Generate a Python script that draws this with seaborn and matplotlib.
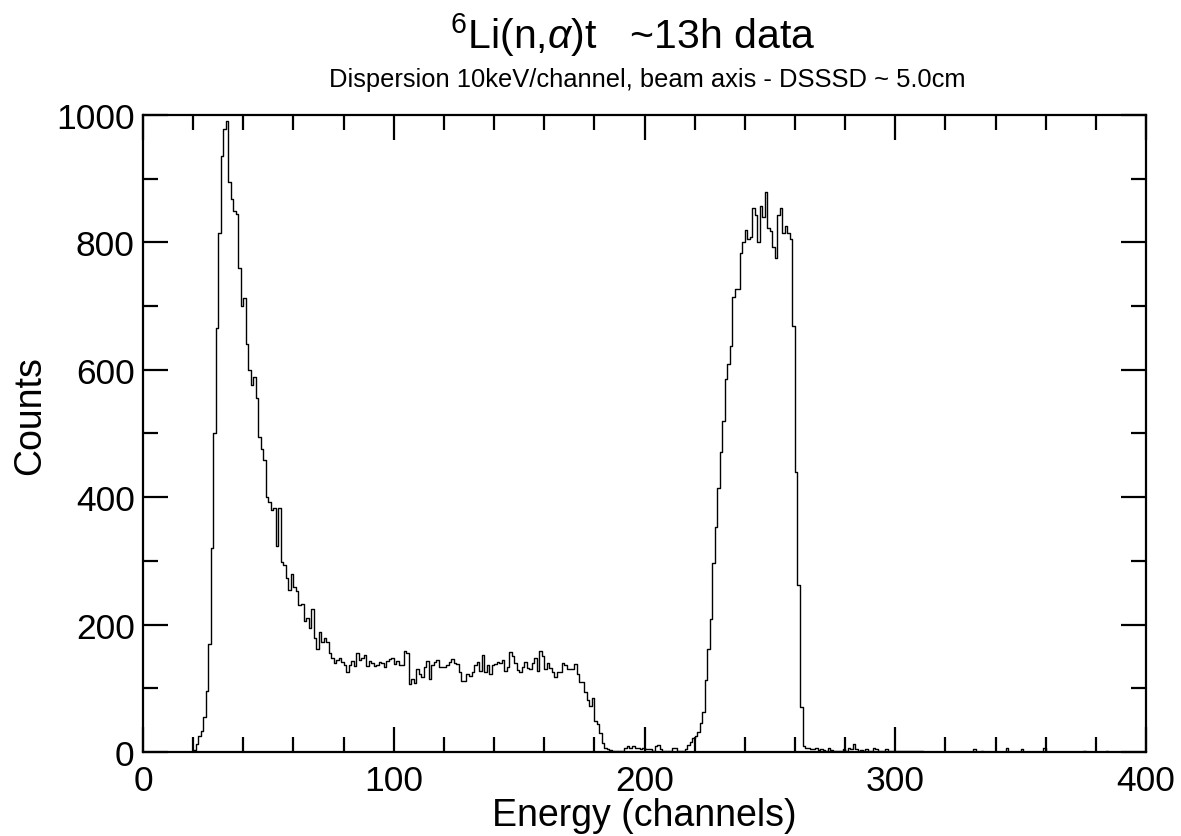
import numpy as np
import pandas as pd
import matplotlib
matplotlib.use("Agg")
import matplotlib.pyplot as plt
from matplotlib.ticker import MultipleLocator
import seaborn as sns

# counts per channel (1 channel = 10 keV)
lead_in = [0, 0, 0, 0, 0, 0, 0, 0, 0, 0,
           0, 0, 0, 0, 0, 0, 0, 0, 0, 0]                       # ch 0-19
alpha_peak = [3, 12, 25, 33, 55, 95, 170, 320, 500, 665,
              815, 935, 978, 990, 895, 868, 850, 845, 760, 700,
              712, 640, 600, 576, 588, 555, 494, 476, 458, 401,
              392, 380, 383, 323, 383, 298, 294, 273, 255, 280]  # ch 20-59
alpha_tail = [259, 252, 230, 232, 206, 210, 194, 224, 179, 162,
              188, 172, 179, 172, 155, 147, 140, 145, 147, 141,
              136, 126, 136, 143, 135, 155, 144, 147, 152, 135,
              143, 140, 135, 136, 141, 140, 134, 143, 146, 147]  # ch 60-99
plateau_a = [138, 143, 137, 137, 159, 155, 107, 115, 108, 130,
             123, 117, 134, 143, 115, 137, 142, 144, 134, 134,
             134, 137, 141, 146, 140, 138, 126, 111, 111, 123,
             120, 125, 137, 141, 127, 152, 125, 137, 122, 137,
             138, 141, 140]                                      # ch 100-142
plateau_b = [145, 127, 134, 157, 151, 139, 128, 126, 134, 142,
             132, 131, 140, 147, 127, 158, 150, 131, 140, 132,
             125, 118, 126, 126, 140, 137, 131]                  # ch 143-169
cutoff = [130, 130, 138, 122, 110, 110, 94, 82, 72, 84,
          48, 44, 30, 14, 7, 4, 3, 2]                            # ch 170-187
gap = [1, 1, 1, 1, 7, 9, 7, 9, 6, 6,
       4, 7, 5, 4, 4, 1, 10, 11, 4, 1,
       1, 1, 1, 6, 6, 1, 1, 1, 4, 11,
       15, 22]                                                   # ch 188-219
triton_rise = [25, 31, 45, 62, 113, 162, 208, 297, 353, 415,
               471, 520, 586, 609, 638, 714, 727, 727, 783, 800,
               820, 805]                                         # ch 220-241
triton_top = [808, 854, 843, 800, 857, 840, 879, 823, 818, 793,
              775, 843, 854, 815, 825, 815, 806, 668, 440, 262,
              70, 10, 7]                                         # ch 242-264
tail_near = [6, 5, 5, 6, 3, 4, 3, 2, 6, 3,
             2, 1, 2, 1, 4, 2, 7, 4, 12, 4,
             2, 3, 1, 4, 2, 2, 7, 5, 2, 1,
             1, 4, 2, 2, 1, 1, 2, 1, 1, 2,
             1, 1, 1, 2, 1, 1, 0]                                # ch 265-311
tail_far = [0, 0, 0, 0, 0, 0, 0, 0, 0, 0,
            0, 0, 0, 0, 0, 0, 0, 0, 0, 4,
            0, 0, 2, 0, 0, 0, 0, 0, 0, 0,
            0, 0, 7, 0, 0, 0, 0, 0, 4, 0,
            0, 0, 0, 0, 0, 0, 0, 6, 0, 0,
            0, 0, 0, 0, 0, 0, 0, 0, 0, 0,
            0, 0, 0, 2, 0, 0, 0, 0, 0, 0,
            0, 0, 2, 0, 0, 0, 0, 0, 0, 0,
            0, 0, 0, 0, 0, 0, 0, 0]                              # ch 312-399

counts = (lead_in + alpha_peak + alpha_tail + plateau_a + plateau_b + cutoff
          + gap + triton_rise + triton_top + tail_near + tail_far)
channels = np.arange(len(counts)) + 0.5
df = pd.DataFrame({"channel": channels, "counts": counts})

sns.set_theme(style="white")
plt.rcParams["font.family"] = ["Liberation Sans", "DejaVu Sans"]
plt.rcParams["text.color"] = "black"
plt.rcParams["axes.labelcolor"] = "black"
plt.rcParams["mathtext.fontset"] = "custom"
plt.rcParams["mathtext.rm"] = "Liberation Sans"
plt.rcParams["mathtext.it"] = "Liberation Sans:italic"

fig = plt.figure(figsize=(11.81, 8.37), dpi=100)
ax = fig.add_axes([0.1211, 0.1004, 0.8493, 0.761])

sns.histplot(data=df, x="channel", weights="counts", binwidth=1, binrange=(0, 400),
             element="step", fill=False, color="black", linewidth=1.0, ax=ax)

ax.set_xlim(0, 400)
ax.set_ylim(0, 1000)
ax.xaxis.set_major_locator(MultipleLocator(100))
ax.xaxis.set_minor_locator(MultipleLocator(20))
ax.yaxis.set_major_locator(MultipleLocator(200))
ax.yaxis.set_minor_locator(MultipleLocator(100))
ax.tick_params(which="both", direction="in", top=True, right=True, bottom=True, left=True,
               width=1.6, colors="black", labelsize=25.5)
ax.tick_params(axis="x", which="major", pad=9)
ax.tick_params(axis="y", which="major", pad=6)
ax.tick_params(which="major", length=18)
ax.tick_params(which="minor", length=11)
for s in ax.spines.values():
    s.set_color("black")
    s.set_linewidth(1.6)

ax.set_xlabel("Energy (channels)", fontsize=27, labelpad=0)
ax.set_ylabel("Counts", fontsize=27)
ax.yaxis.set_label_coords(-0.095, 0.53)

fig.text(0.536, 0.958, r"$^{6}$Li(n,$\alpha$)t   ~13h data", ha="center", va="center", fontsize=29.5)
fig.text(0.548, 0.904, "Dispersion 10keV/channel, beam axis - DSSSD ~ 5.0cm",
         ha="center", va="center", fontsize=18.4)

fig.savefig("out.png", dpi=100, facecolor="white")
